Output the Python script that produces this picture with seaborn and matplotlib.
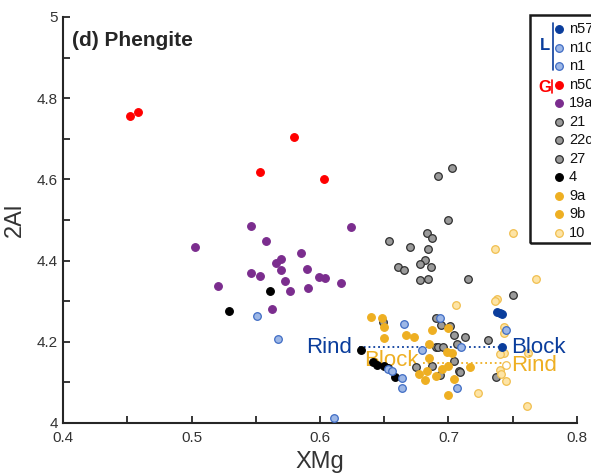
import numpy as np
import pandas as pd
import matplotlib
matplotlib.use('Agg')
import matplotlib.pyplot as plt
import seaborn as sns
from matplotlib.patches import Rectangle
from matplotlib.lines import Line2D

# ---- data ----
n57_x = [0.7377, 0.740, 0.7416, 0.7416]
n57_y = [4.273, 4.271, 4.268, 4.187]

n10_x = [0.551, 0.567, 0.611, 0.665, 0.679, 0.653, 0.664, 0.664]
n10_y = [4.264, 4.207, 4.012, 4.244, 4.180, 4.133, 4.111, 4.086]

n1_x = [0.693, 0.710, 0.707, 0.745, 0.656]
n1_y = [4.259, 4.187, 4.086, 4.230, 4.128]

n50_x = [0.452, 0.458, 0.580, 0.553, 0.603]
n50_y = [4.757, 4.765, 4.705, 4.617, 4.600]

s19a_x = [0.546, 0.624, 0.503, 0.558, 0.585, 0.566, 0.570, 0.546, 0.553, 0.570,
          0.590, 0.599, 0.604, 0.521, 0.573, 0.616, 0.577, 0.591, 0.563]
s19a_y = [4.485, 4.482, 4.433, 4.448, 4.419, 4.394, 4.404, 4.369, 4.362, 4.377,
          4.379, 4.360, 4.357, 4.337, 4.350, 4.345, 4.325, 4.333, 4.281]

s21_x = [0.703, 0.692, 0.700, 0.683, 0.687, 0.654, 0.670, 0.684, 0.682]
s21_y = [4.628, 4.608, 4.500, 4.468, 4.456, 4.448, 4.434, 4.429, 4.401]

s22c_x = [0.678, 0.686, 0.661, 0.665, 0.678, 0.684, 0.715, 0.750]
s22c_y = [4.392, 4.384, 4.384, 4.377, 4.352, 4.355, 4.355, 4.316]

s27_x = [0.690, 0.694, 0.701, 0.704, 0.713, 0.707, 0.690, 0.692, 0.696, 0.675,
         0.687, 0.704, 0.708, 0.693, 0.649, 0.731, 0.737, 0.709]
s27_y = [4.259, 4.241, 4.239, 4.217, 4.212, 4.195, 4.187, 4.187, 4.187, 4.138,
         4.140, 4.153, 4.128, 4.118, 4.249, 4.204, 4.113, 4.126]

s4_x = [0.561, 0.529, 0.632, 0.641, 0.644, 0.650, 0.653, 0.658]
s4_y = [4.325, 4.276, 4.180, 4.150, 4.143, 4.140, 4.135, 4.113]

s9a_x = [0.640, 0.648, 0.650, 0.650, 0.667, 0.673, 0.687, 0.700, 0.685, 0.699, 0.703]
s9a_y = [4.261, 4.259, 4.236, 4.209, 4.217, 4.212, 4.229, 4.234, 4.195, 4.175, 4.172]

s9b_x = [0.685, 0.677, 0.683, 0.682, 0.690, 0.695, 0.700, 0.704, 0.717, 0.700]
s9b_y = [4.160, 4.121, 4.128, 4.106, 4.116, 4.133, 4.140, 4.108, 4.138, 4.069]

s10_x = [0.750, 0.736, 0.768, 0.738, 0.736, 0.706, 0.723, 0.743, 0.743, 0.743,
         0.740, 0.762, 0.740, 0.741, 0.745, 0.761]
s10_y = [4.468, 4.429, 4.355, 4.305, 4.300, 4.291, 4.074, 4.236, 4.222, 4.172,
         4.170, 4.172, 4.130, 4.121, 4.103, 4.042]

# Rind / Block tie lines
blue_tie_x = [0.630, 0.742]
blue_tie_y = 4.187
orange_tie_x = [0.680, 0.745]
orange_tie_y = 4.148
orange_rind = (0.745, 4.142)

legend_labels = ['n57', 'n10', 'n1', 'n50', '19a', '21', '22c', '27', '4', '9a', '9b', '10']

# colours
DBLUE = '#0a3d9c'
LBLUE, LBLUE_E = '#9db7e6', '#3f6cc4'
RED = '#ff0000'
PURPLE = '#7b2d8e'
GRAY, GRAY_E = '#9a9a9a', '#2e2e2e'
ORANGE = '#eeaf22'
PALE, PALE_E = '#fde4a6', '#f1bf4f'

styles = {
    'n57': (n57_x, n57_y, DBLUE, DBLUE),
    'n10': (n10_x, n10_y, LBLUE, LBLUE_E),
    'n1': (n1_x, n1_y, LBLUE, LBLUE_E),
    'n50': (n50_x, n50_y, RED, RED),
    '19a': (s19a_x, s19a_y, PURPLE, PURPLE),
    '21': (s21_x, s21_y, GRAY, GRAY_E),
    '22c': (s22c_x, s22c_y, GRAY, GRAY_E),
    '27': (s27_x, s27_y, GRAY, GRAY_E),
    '4': (s4_x, s4_y, 'black', 'black'),
    '9a': (s9a_x, s9a_y, ORANGE, ORANGE),
    '9b': (s9b_x, s9b_y, ORANGE, ORANGE),
    '10': (s10_x, s10_y, PALE, PALE_E),
}

sns.set_style('ticks')
plt.rcParams['font.family'] = ['Liberation Sans', 'DejaVu Sans']

W, H = 591, 475
fig = plt.figure(figsize=(W / 100, H / 100), dpi=100)
ax = fig.add_axes([63 / W, 52 / H, 514 / W, 406 / H])

def fx(px):
    return px / W

def fy(py):
    return 1 - py / H

# ties drawn under points
ax.plot(blue_tie_x, [blue_tie_y] * 2, ls=':', color=DBLUE, lw=1.3, zorder=1)
ax.plot(orange_tie_x, [orange_tie_y] * 2, ls=':', color=ORANGE, lw=1.3, zorder=1)

order = ['19a', 'n50', '4', '21', '22c', '27', '9a', '9b', '10', 'n10', 'n1', 'n57']
for key in order:
    xs, ys, fc, ec = styles[key]
    df = pd.DataFrame({'XMg': xs, '2Al': ys})
    sns.scatterplot(data=df, x='XMg', y='2Al', color=fc, edgecolor=ec,
                    s=30, linewidth=0.9, ax=ax, zorder=3, legend=False)

ax.scatter([orange_rind[0]], [orange_rind[1]], s=30, facecolor='white',
           edgecolor=PALE_E, linewidth=0.9, zorder=4)

ax.text(0.625, 4.186, 'Rind', color=DBLUE, fontsize=16, ha='right', va='center')
ax.text(0.749, 4.186, 'Block', color=DBLUE, fontsize=16, ha='left', va='center')
ax.text(0.634, 4.153, 'Block', color=ORANGE, fontsize=16, ha='left', va='center', zorder=2)
ax.text(0.749, 4.141, 'Rind', color=ORANGE, fontsize=16, ha='left', va='center')

ax.set_xlim(0.4, 0.8)
ax.set_ylim(4.0, 5.0)
ax.set_xticks(np.arange(0.4, 0.81, 0.1))
ax.set_xticklabels(['0.4', '0.5', '0.6', '0.7', '0.8'])
ax.set_xticks(np.arange(0.4, 0.81, 0.05), minor=True)
ax.set_yticks(np.arange(4.0, 5.01, 0.2))
ax.set_yticklabels(['4', '4.2', '4.4', '4.6', '4.8', '5'])
ax.set_yticks(np.arange(4.0, 5.01, 0.1), minor=True)
ax.tick_params(which='both', direction='in', length=5, width=1.3, colors='#262626',
               labelsize=11, labelcolor='#333333')
ax.tick_params(axis='x', pad=6)
for side in ['top', 'right']:
    ax.spines[side].set_visible(False)
for side in ['left', 'bottom']:
    ax.spines[side].set_linewidth(1.5)
    ax.spines[side].set_color('#262626')

ax.set_xlabel('XMg', fontsize=17, color='#333333', labelpad=4)
ax.set_ylabel('2Al', fontsize=17, color='#333333', labelpad=8)
ax.text(0.018, 0.965, '(d) Phengite', transform=ax.transAxes, fontsize=15,
        fontweight='bold', ha='left', va='top')

# ---- hand-made legend (clipped at the right edge like the original) ----
fig.patches.append(Rectangle((fx(530), fy(243)), fx(640) - fx(530), fy(15) - fy(243),
                             transform=fig.transFigure, fill=False, edgecolor='#1a1a1a',
                             linewidth=1.8, zorder=5))
step = (233 - 29) / 11
for i, key in enumerate(legend_labels):
    _, _, fc, ec = styles[key]
    yy = 29 + i * step
    fig.add_artist(Line2D([fx(559)], [fy(yy)], marker='o', markersize=5.5,
                          markerfacecolor=fc, markeredgecolor=ec, markeredgewidth=0.9,
                          linestyle='none', transform=fig.transFigure))
    fig.text(fx(569), fy(yy), key, fontsize=10.5, ha='left', va='center', color='#111111')

fig.add_artist(Line2D([fx(553), fx(553)], [fy(23), fy(70)], color=DBLUE, lw=1.2,
                      transform=fig.transFigure))
fig.text(fx(545), fy(46), 'L', color=DBLUE, fontsize=12, fontweight='bold',
         ha='center', va='center')
fig.add_artist(Line2D([fx(552), fx(552)], [fy(80), fy(93)], color=RED, lw=1.2,
                      transform=fig.transFigure))
fig.text(fx(545), fy(87), 'G', color=RED, fontsize=12, fontweight='bold',
         ha='center', va='center')

fig.savefig('out.png', dpi=100)
